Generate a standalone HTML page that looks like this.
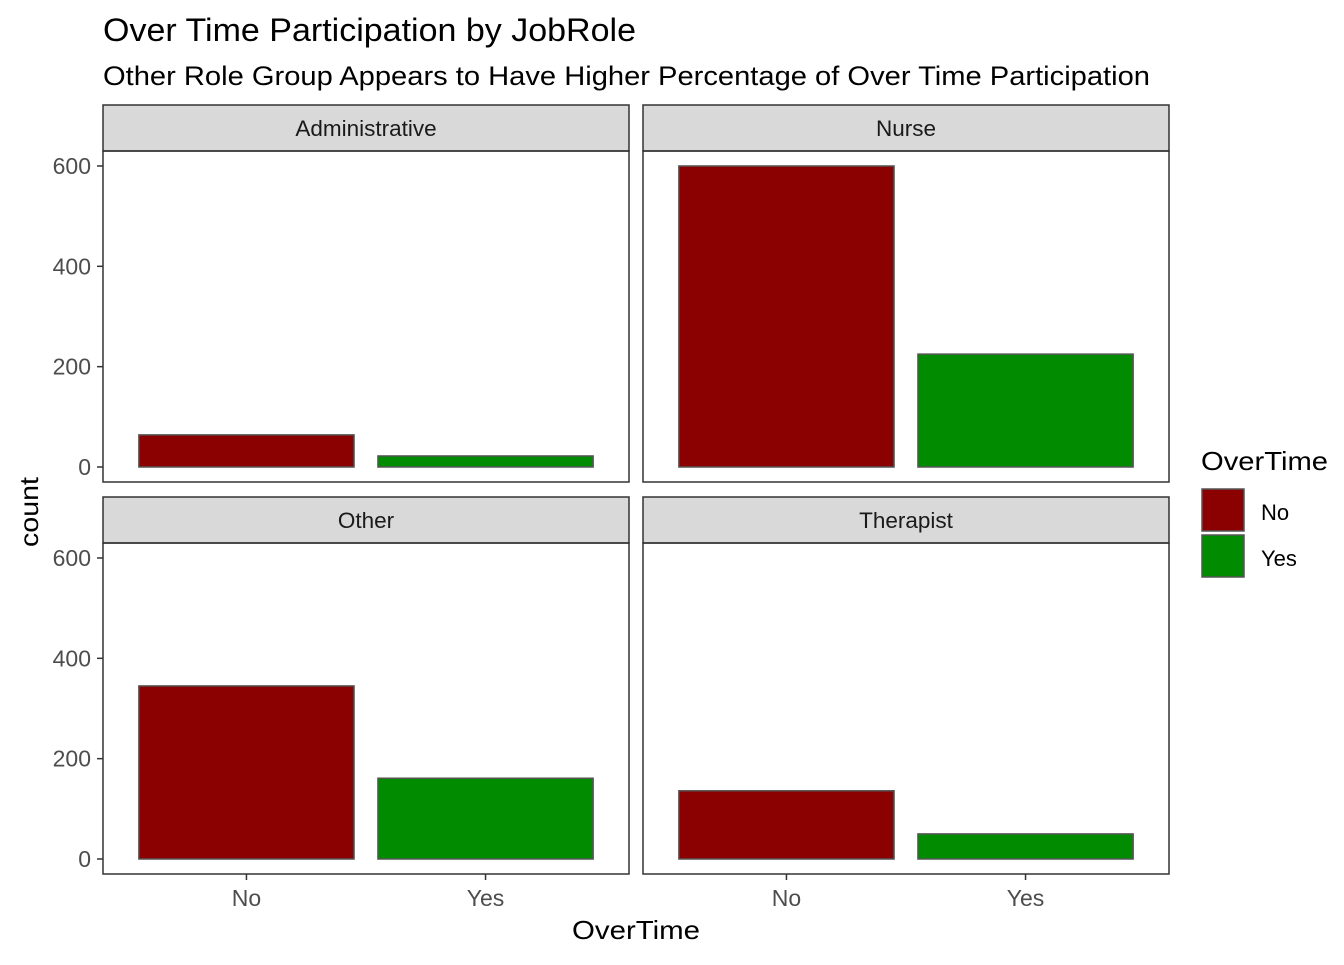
<!DOCTYPE html>
<html><head><meta charset="utf-8"><style>
body{margin:0;background:#fff;font-family:"Liberation Sans",Arial,sans-serif;}
</style></head><body>
<svg id="chart" width="1344" height="960" xmlns="http://www.w3.org/2000/svg" font-family="Liberation Sans, Arial, sans-serif">
<rect width="1344" height="960" fill="#fff"/>
<text x="103" y="41" font-size="32" fill="#000" textLength="533" lengthAdjust="spacingAndGlyphs">Over Time Participation by JobRole</text>
<text x="103" y="85" font-size="27" fill="#000" textLength="1047" lengthAdjust="spacingAndGlyphs">Other Role Group Appears to Have Higher Percentage of Over Time Participation</text>
<text transform="translate(38,512) rotate(-90)" text-anchor="middle" font-size="26" fill="#000" textLength="70" lengthAdjust="spacingAndGlyphs">count</text>
<text x="636" y="939" text-anchor="middle" font-size="26" fill="#000" textLength="128" lengthAdjust="spacingAndGlyphs">OverTime</text>
<g id="panels"></g>
<g>
<text x="1201" y="470" font-size="26" fill="#000" textLength="127" lengthAdjust="spacingAndGlyphs">OverTime</text>
<rect x="1202" y="489" width="42" height="42" fill="#8b0000" stroke="#555" stroke-width="1.5"/>
<text x="1261" y="520" font-size="22" fill="#000">No</text>
<rect x="1202" y="535" width="42" height="42" fill="#008b00" stroke="#555" stroke-width="1.5"/>
<text x="1261" y="566" font-size="22" fill="#000">Yes</text>
</g>
</svg>
<script>
const roles = ["Administrative","Nurse","Other","Therapist"];
const categories = ["No","Yes"];
const noValues = [64, 600, 345, 136];
const yesValues = [22, 225, 161, 50];
const yTicks = [0,200,400,600];
const NS="http://www.w3.org/2000/svg";
const g=document.getElementById("panels");
function mk(t,a,p){const e=document.createElementNS(NS,t);for(const k in a)e.setAttribute(k,a[k]);(p||g).appendChild(e);return e;}
const panels=[{x:103,y:151},{x:643,y:151},{x:103,y:543},{x:643,y:543}];
const pw=526, ph=331, sh=46;
roles.forEach((r,i)=>{
  const p=panels[i];
  const ys=v=>p.y+316-v*0.5017;
  const xs=c=>p.x+(c+1-0.4)*(pw/2.2);
  const strip=mk("rect",{x:p.x,y:p.y-sh,width:pw,height:sh,fill:"#d9d9d9",stroke:"#333","stroke-width":1.5});
  
  
  const st=mk("text",{x:p.x+pw/2,y:p.y-sh/2+8,"text-anchor":"middle","font-size":22.5,fill:"#1a1a1a"});
  st.textContent=r;
  
  
  const vals=[noValues[i],yesValues[i]];
  const cols=["#8b0000","#008b00"];
  vals.forEach((v,c)=>{
    const cx=xs(c), bw=0.9*pw/2.2;
    const b=mk("rect",{x:cx-bw/2,y:ys(v),width:bw,height:ys(0)-ys(v),fill:cols[c],stroke:"#555","stroke-width":1.5});
    
    
  });
  const fr=mk("rect",{x:p.x,y:p.y,width:pw,height:ph,fill:"none",stroke:"#333","stroke-width":1.5});
  
  
  if(p.x===103){
    yTicks.forEach(t=>{
      mk("line",{x1:p.x-6,x2:p.x,y1:ys(t),y2:ys(t),stroke:"#333","stroke-width":1.5});
      const tl=mk("text",{x:p.x-12,y:ys(t)+8,"text-anchor":"end","font-size":23,fill:"#4d4d4d"});
      tl.textContent=t;
      
      
    });
  }
  if(p.y===543){
    categories.forEach((c,ci)=>{
      mk("line",{x1:xs(ci),x2:xs(ci),y1:p.y+ph,y2:p.y+ph+6,stroke:"#333","stroke-width":1.5});
      const xl=mk("text",{x:xs(ci),y:p.y+ph+32,"text-anchor":"middle","font-size":23,fill:"#4d4d4d"});
      xl.textContent=c;
      
      
    });
  }
});
</script>
</body></html>
